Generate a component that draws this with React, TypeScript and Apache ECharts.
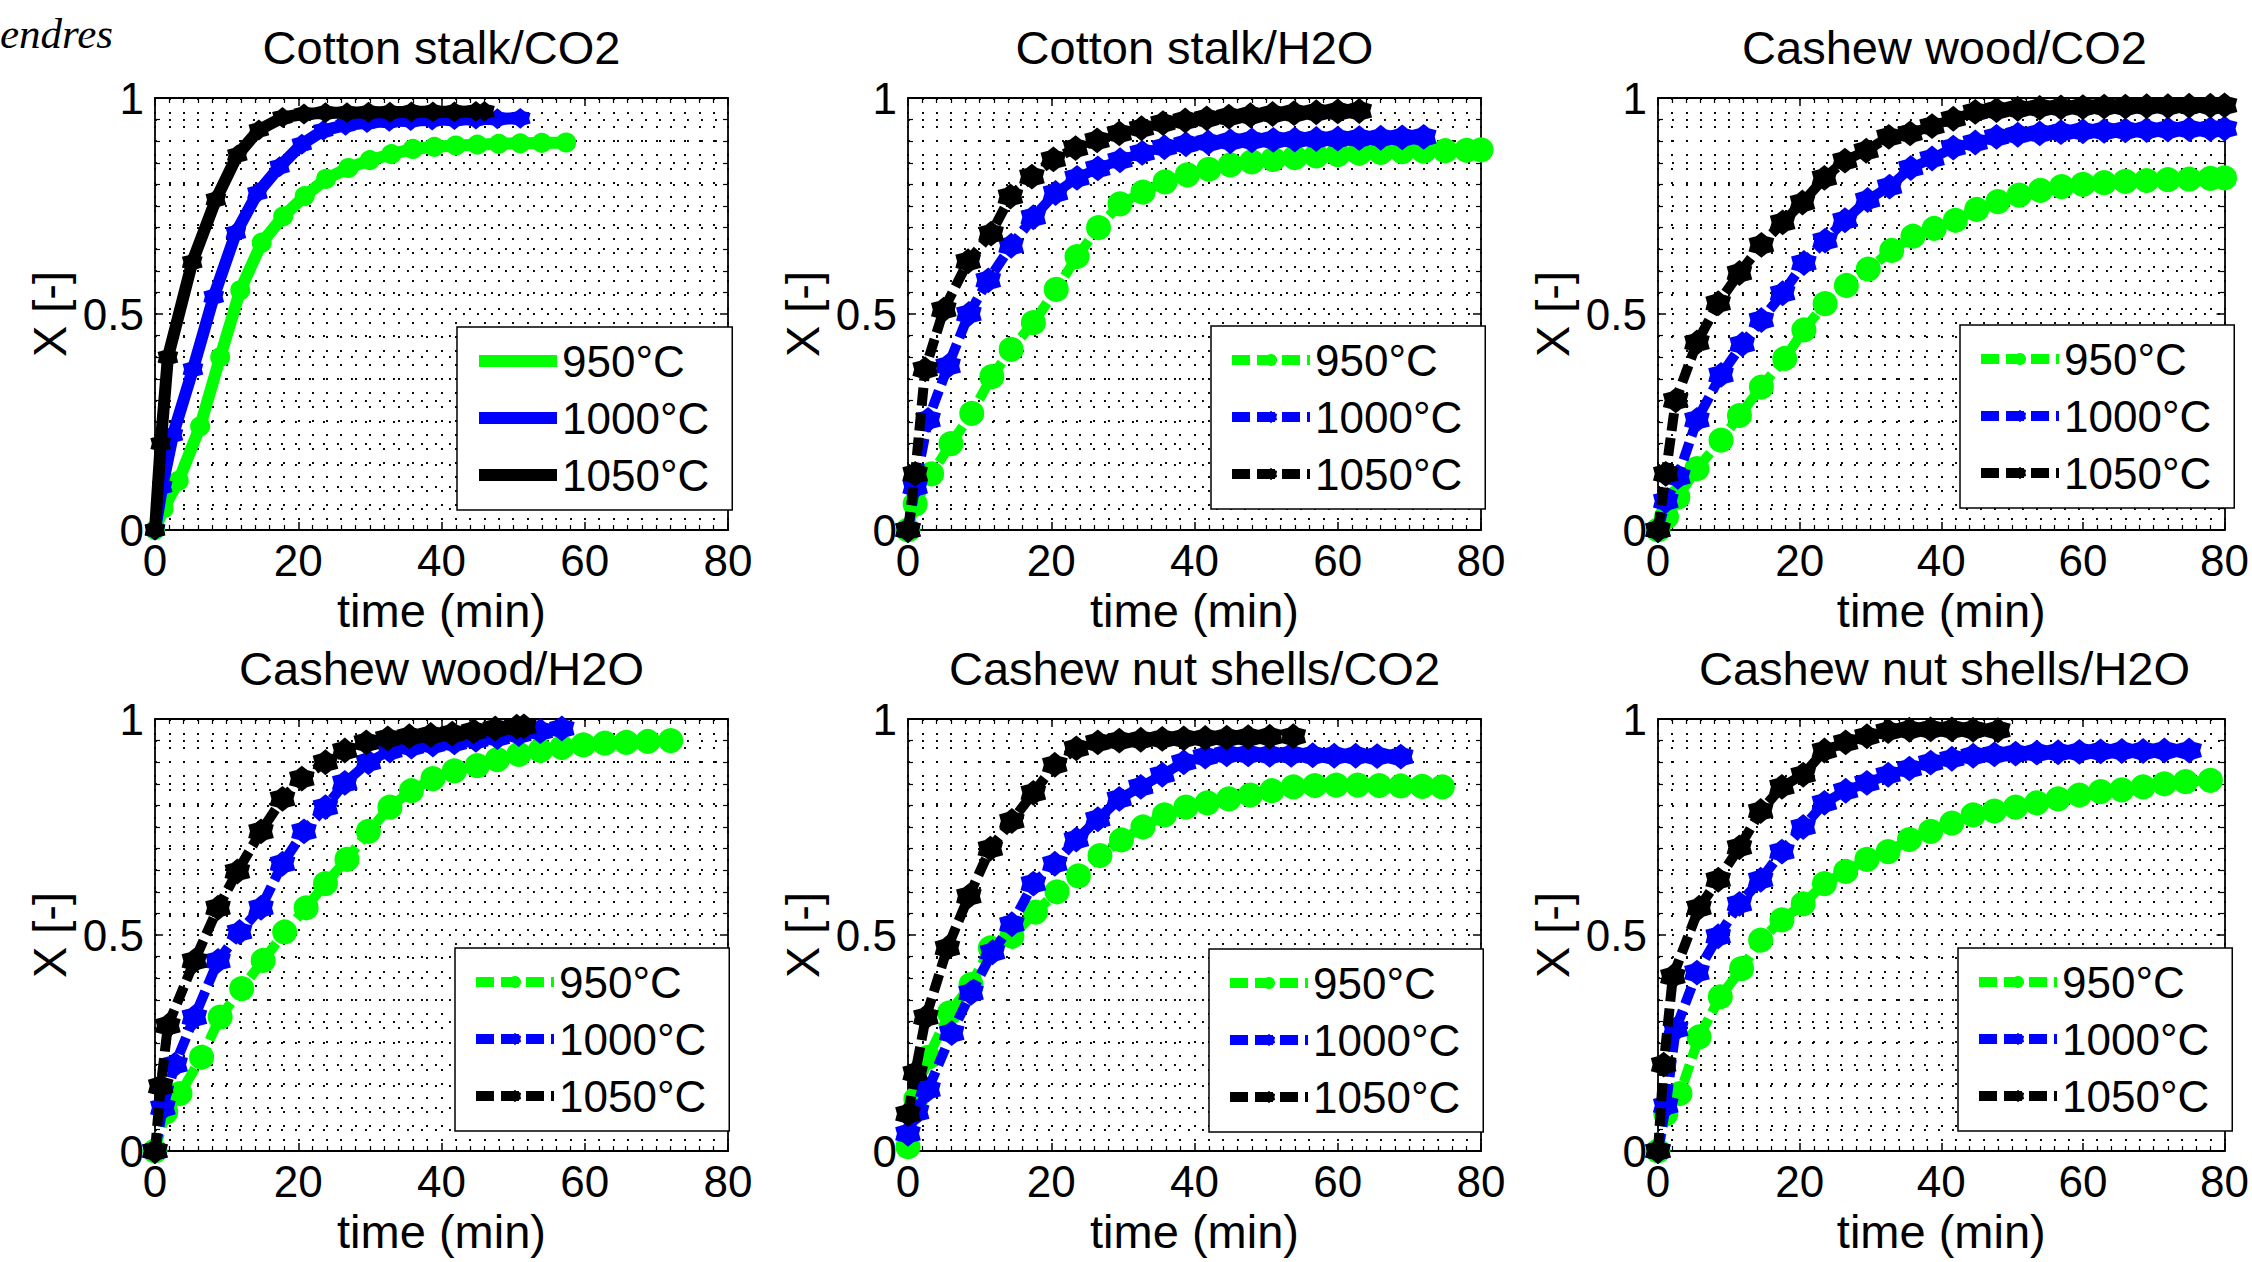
import React, { useEffect, useRef } from 'react';
import * as echarts from 'echarts';

// ---------- data ----------
const TEMPS = ['950°C', '1000°C', '1050°C'];
const COLORS = ['#00ff00', '#0000ff', '#000000'];
const PANEL_TITLES = [
  'Cotton stalk/CO2',
  'Cotton stalk/H2O',
  'Cashew wood/CO2',
  'Cashew wood/H2O',
  'Cashew nut shells/CO2',
  'Cashew nut shells/H2O',
];
const X_MIN = 0, X_MAX = 80, X_STEP = 20;
const Y_MIN = 0, Y_MAX = 1, Y_STEP = 0.5;
const X_LABEL = 'time (min)';
const Y_LABEL = 'X [-]';

// Cotton stalk / CO2
const cottonCO2_950 = [[0,0],[1.2,0.05],[3.3,0.114],[6.3,0.24],[9.1,0.4],[11.9,0.555],[14.9,0.665],[17.9,0.726],[20.9,0.773],[23.9,0.813],[27,0.838],[30,0.856],[33,0.87],[36,0.882],[39,0.887],[42,0.89],[45,0.892],[48,0.894],[51,0.895],[54,0.896],[57.4,0.897]];
const cottonCO2_1000 = [[0,0],[1,0.1],[2.5,0.22],[5.3,0.372],[8.2,0.54],[11.3,0.688],[14.3,0.78],[17.4,0.841],[20.5,0.893],[23.5,0.925],[26.6,0.937],[29.6,0.943],[32.7,0.946],[35.7,0.948],[38.7,0.949],[41.8,0.95],[44.8,0.951],[47.8,0.952],[51,0.953]];
const cottonCO2_1050 = [[0,0],[0.8,0.2],[1.8,0.4],[5.2,0.62],[8.5,0.765],[11.5,0.868],[14.5,0.926],[17.8,0.955],[20.8,0.963],[23.8,0.966],[26.8,0.966],[29.8,0.967],[32.8,0.967],[35.8,0.968],[38.8,0.968],[41.8,0.968],[44.8,0.969],[46,0.969]];

// Cotton stalk / H2O
const cottonH2O_950 = [[0,0],[1,0.06],[3.3,0.13],[6,0.2],[8.9,0.27],[11.7,0.355],[14.4,0.418],[17.5,0.48],[20.7,0.557],[23.6,0.633],[26.6,0.7],[29.6,0.755],[32.8,0.782],[35.9,0.806],[39,0.822],[42,0.835],[45,0.845],[48,0.852],[51,0.858],[54,0.862],[57,0.866],[60,0.869],[63,0.872],[66,0.874],[69,0.876],[72,0.877],[75,0.878],[78,0.879],[80,0.88]];
const cottonH2O_1000 = [[0,0],[1,0.1],[2.8,0.255],[5.6,0.38],[8.5,0.5],[11.2,0.578],[14.4,0.658],[17.5,0.724],[20.6,0.78],[23.6,0.815],[26.5,0.837],[29.6,0.856],[32.7,0.873],[35.8,0.886],[38.8,0.893],[41.9,0.897],[45,0.9],[48,0.902],[51,0.903],[54,0.904],[57,0.905],[60,0.906],[63,0.907],[66,0.908],[69,0.909],[72,0.91]];
const cottonH2O_1050 = [[0,0],[1,0.13],[2.4,0.372],[5,0.51],[8.4,0.622],[11.6,0.686],[14.3,0.772],[17.3,0.818],[20.3,0.858],[23.4,0.884],[26.4,0.902],[29.5,0.918],[32.6,0.93],[35.6,0.942],[38.7,0.948],[41.7,0.953],[44.8,0.957],[47.8,0.96],[50.9,0.963],[53.9,0.965],[57,0.967],[60,0.969],[63,0.97]];

// Cashew wood / CO2
const woodCO2_950 = [[0,0],[1.2,0.03],[2.8,0.076],[5.5,0.142],[8.9,0.208],[11.5,0.265],[14.6,0.331],[17.9,0.397],[20.6,0.463],[23.6,0.524],[26.6,0.566],[29.7,0.604],[33,0.647],[36,0.68],[39,0.698],[42,0.717],[45,0.742],[48,0.76],[51,0.775],[54,0.786],[57,0.795],[60,0.8],[63,0.804],[66,0.807],[69,0.809],[72,0.811],[75,0.812],[78,0.814],[80,0.815]];
const woodCO2_1000 = [[0,0],[1.1,0.067],[2.8,0.123],[5.5,0.255],[8.9,0.359],[11.9,0.43],[14.6,0.486],[17.6,0.548],[20.6,0.618],[23.6,0.67],[26.4,0.717],[29.6,0.764],[32.7,0.795],[35.7,0.838],[38.7,0.86],[41.7,0.885],[44.8,0.897],[47.8,0.91],[50.8,0.915],[53.9,0.918],[56.9,0.921],[60,0.923],[63,0.924],[66,0.925],[69,0.926],[72,0.927],[75,0.928],[78,0.928],[80,0.929]];
const woodCO2_1050 = [[0,0],[1.1,0.13],[2.5,0.3],[5.5,0.434],[8.5,0.525],[11.5,0.595],[14.6,0.66],[17.6,0.712],[20.4,0.758],[23.5,0.815],[26.4,0.855],[29.4,0.878],[32.6,0.91],[35.6,0.918],[38.7,0.935],[41.7,0.952],[44.8,0.968],[47.8,0.972],[50.8,0.975],[53.9,0.977],[56.9,0.978],[60,0.979],[63,0.98],[66,0.98],[69,0.981],[72,0.981],[75,0.982],[78,0.982],[80,0.983]];

// Cashew wood / H2O
const woodH2O_950 = [[0,0],[1.5,0.09],[3.5,0.133],[6.5,0.217],[9.1,0.31],[12.1,0.376],[15.1,0.441],[18.1,0.507],[21.1,0.563],[23.8,0.619],[26.8,0.675],[29.8,0.74],[32.8,0.796],[35.8,0.834],[38.8,0.862],[41.8,0.88],[45,0.892],[47.8,0.906],[50.8,0.918],[53.8,0.927],[56.8,0.934],[59.8,0.94],[62.8,0.944],[65.8,0.946],[68.8,0.948],[72,0.95]];
const woodH2O_1000 = [[0,0],[1.1,0.1],[2.8,0.2],[5.5,0.31],[8.8,0.44],[11.8,0.507],[14.8,0.563],[17.8,0.665],[20.8,0.74],[23.8,0.796],[26.5,0.852],[29.8,0.9],[32.8,0.927],[35.8,0.936],[38.8,0.941],[41.8,0.946],[44.8,0.952],[47.8,0.958],[50.8,0.965],[53.8,0.972],[56.8,0.978]];
const woodH2O_1050 = [[0,0],[0.8,0.15],[1.8,0.29],[5.5,0.44],[8.8,0.563],[11.5,0.647],[14.8,0.74],[17.8,0.815],[20.5,0.862],[23.8,0.9],[26.5,0.927],[29.5,0.946],[32.5,0.955],[35.5,0.96],[38.5,0.963],[41.5,0.966],[44.5,0.972],[47.5,0.978],[50.5,0.982],[51.5,0.983]];

// Cashew nut shells / CO2
const nutCO2_950 = [[0,0.01],[1.1,0.12],[2.8,0.217],[5.8,0.32],[8.8,0.385],[11.5,0.47],[14.5,0.497],[17.8,0.553],[20.8,0.6],[23.8,0.637],[26.8,0.684],[29.8,0.72],[32.8,0.75],[35.8,0.778],[38.8,0.796],[41.8,0.806],[44.8,0.815],[47.8,0.824],[50.8,0.834],[53.8,0.843],[56.8,0.846],[59.8,0.847],[62.8,0.847],[65.8,0.846],[68.8,0.845],[71.8,0.844],[74.6,0.843]];
const nutCO2_1000 = [[0,0.04],[1.2,0.09],[2.8,0.142],[6.1,0.273],[8.8,0.366],[11.8,0.46],[14.5,0.525],[17.5,0.619],[20.5,0.665],[23.5,0.721],[26.5,0.768],[29.5,0.815],[32.5,0.843],[35.5,0.871],[38.5,0.9],[41.5,0.913],[44.5,0.918],[47.5,0.918],[50.5,0.917],[53.5,0.917],[56.5,0.916],[59.5,0.915],[62.5,0.915],[65.5,0.914],[68.8,0.913]];
const nutCO2_1050 = [[0,0.086],[1,0.18],[2.5,0.31],[5.5,0.47],[8.5,0.59],[11.5,0.7],[14.5,0.764],[17.5,0.829],[20.5,0.894],[23.5,0.932],[26.5,0.946],[29.5,0.95],[32.5,0.952],[35.5,0.954],[38.5,0.955],[41.5,0.956],[44.5,0.957],[47.5,0.958],[50.5,0.959],[53.8,0.96]];

// Cashew nut shells / H2O
const nutH2O_950 = [[0,0],[1.1,0.086],[3.1,0.133],[5.8,0.264],[8.8,0.357],[11.8,0.422],[14.5,0.488],[17.5,0.535],[20.5,0.572],[23.5,0.619],[26.5,0.647],[29.5,0.675],[32.5,0.693],[35.5,0.721],[38.5,0.74],[41.5,0.759],[44.5,0.778],[47.5,0.787],[50.5,0.796],[53.5,0.806],[56.5,0.815],[59.5,0.824],[62.5,0.832],[65.5,0.836],[68.5,0.843],[71.5,0.85],[74.5,0.855],[78,0.858]];
const nutH2O_1000 = [[0,0],[1.1,0.105],[2.5,0.282],[5.5,0.413],[8.5,0.497],[11.5,0.572],[14.5,0.628],[17.5,0.693],[20.5,0.75],[23.5,0.806],[26.5,0.834],[29.5,0.852],[32.5,0.871],[35.5,0.885],[38.5,0.899],[41.5,0.908],[44.5,0.915],[47.5,0.918],[50.5,0.92],[53.5,0.922],[56.5,0.923],[59.5,0.924],[62.5,0.925],[65.5,0.926],[68.5,0.926],[71.5,0.927],[75,0.927]];
const nutH2O_1050 = [[0,0],[0.8,0.2],[2.1,0.404],[5.8,0.563],[8.5,0.628],[11.5,0.703],[14.5,0.787],[17.5,0.843],[20.5,0.871],[23.5,0.927],[26.5,0.946],[29.5,0.96],[32.5,0.972],[35.5,0.975],[38.5,0.976],[41.5,0.976],[44.5,0.975],[48,0.974]];

const PANEL_DATA = [
  [cottonCO2_950, cottonCO2_1000, cottonCO2_1050],
  [cottonH2O_950, cottonH2O_1000, cottonH2O_1050],
  [woodCO2_950, woodCO2_1000, woodCO2_1050],
  [woodH2O_950, woodH2O_1000, woodH2O_1050],
  [nutCO2_950, nutCO2_1000, nutCO2_1050],
  [nutH2O_950, nutH2O_1000, nutH2O_1050],
];

// ---------- layout / style ----------
const W = 2252, H = 1262;
const FONT = '"Liberation Sans", Arial, Helvetica, sans-serif';
const GRID_LEFT = [155, 908, 1658];
const GRID_TOP = [98, 719];
const GRID_W = 573, GRID_H = 432;
const LEGEND_POS = [[457, 327], [1211, 326], [1960, 325], [455, 948], [1209, 949], [1958, 948]];
const TITLE_Y = [47, 668];
const BLOB = 'path://M0,-10 L3.75,-6.5 L8.66,-5 L7.5,0 L8.66,5 L3.75,6.5 L0,10 L-3.75,6.5 L-8.66,5 L-7.5,0 L-8.66,-5 L-3.75,-6.5 Z';
const SYMBOLS = ['circle', BLOB, BLOB];

function buildOption() {
  const dotted = { color: '#000', width: 1.9, type: [1.9, 12.1] };
  const grid: any[] = [];
  const xAxis: any[] = [];
  const yAxis: any[] = [];
  const series: any[] = [];
  const legend: any[] = [];
  const graphic: any[] = [];

  PANEL_TITLES.forEach((title, p) => {
    const col = p % 3, row = Math.floor(p / 3);
    const left = GRID_LEFT[col], top = GRID_TOP[row];
    grid.push({ left, top, width: GRID_W, height: GRID_H, show: true, backgroundColor: '#fff', borderWidth: 0 });

    const tick = { show: true, inside: true, length: 8, lineStyle: { color: '#000', width: 1.5 } };
    const minor = { show: true, splitNumber: 10, length: 5, lineStyle: { color: '#000', width: 1.2 } };
    const line = { show: true, onZero: false, lineStyle: { color: '#000', width: 1.8 } };

    xAxis.push({
      type: 'value', gridIndex: p, min: X_MIN, max: X_MAX, interval: X_STEP, position: 'bottom',
      axisLine: line, axisTick: tick, minorTick: minor,
      splitLine: { show: true, lineStyle: dotted }, minorSplitLine: { show: true, lineStyle: dotted },
      axisLabel: { color: '#000', fontSize: 44, margin: 8, fontFamily: FONT },
      name: X_LABEL, nameLocation: 'middle', nameGap: 57, nameMoveOverlap: false,
      nameTextStyle: { color: '#000', fontSize: 47, fontFamily: FONT },
    });
    xAxis.push({
      type: 'value', gridIndex: p, min: X_MIN, max: X_MAX, interval: X_STEP, position: 'top',
      axisLine: line, axisTick: tick, minorTick: minor,
      splitLine: { show: false }, axisLabel: { show: false },
    });
    yAxis.push({
      type: 'value', gridIndex: p, min: Y_MIN, max: Y_MAX, interval: Y_STEP, position: 'left',
      axisLine: line, axisTick: tick, minorTick: minor,
      splitLine: { show: true, lineStyle: dotted }, minorSplitLine: { show: true, lineStyle: dotted },
      axisLabel: { color: '#000', fontSize: 44, margin: 11, fontFamily: FONT },
      name: Y_LABEL, nameLocation: 'middle', nameGap: 82, nameMoveOverlap: false,
      nameTextStyle: { color: '#000', fontSize: 47, fontFamily: FONT },
    });
    yAxis.push({
      type: 'value', gridIndex: p, min: Y_MIN, max: Y_MAX, interval: Y_STEP, position: 'right',
      axisLine: line, axisTick: tick, minorTick: minor,
      splitLine: { show: false }, axisLabel: { show: false },
    });

    const solid = p === 0;
    const lw = solid ? 12 : 10;
    const dash = solid ? 'solid' : [18, 7];
    TEMPS.forEach((t, k) => {
      series.push({
        type: 'line',
        name: `${t}#${p}`,
        xAxisIndex: 2 * p,
        yAxisIndex: 2 * p,
        data: PANEL_DATA[p][k],
        symbol: SYMBOLS[k],
        symbolSize: solid ? 17 : 22,
        showSymbol: true,
        clip: false,
        lineStyle: { color: COLORS[k], width: lw, type: dash, join: 'round' },
        itemStyle: { color: COLORS[k], borderColor: COLORS[k], borderWidth: 3 },
        emphasis: { disabled: true },
        z: 3 + k,
      });
    });

    legend.push({
      data: TEMPS.map((t) => `${t}#${p}`),
      formatter: (n: string) => n.split('#')[0],
      orient: 'vertical',
      left: LEGEND_POS[p][0],
      top: LEGEND_POS[p][1],
      padding: [12, 23, 13, 16],
      itemWidth: 78,
      itemHeight: 14,
      itemGap: 13,
      backgroundColor: '#fff',
      borderColor: '#000',
      borderWidth: 1.5,
      borderRadius: 0,
      selectedMode: false,
      textStyle: { color: '#000', fontSize: 44, fontFamily: FONT },
      lineStyle: { width: lw },
      itemStyle: { borderWidth: 1 },
      z: 10,
    });

    graphic.push({
      type: 'text',
      x: left + GRID_W / 2,
      y: TITLE_Y[row],
      style: { text: title, fill: '#000', fontSize: 47, fontFamily: FONT, align: 'center', verticalAlign: 'middle' },
    });
  });

  graphic.push({
    type: 'text', x: 0, y: 33,
    style: { text: 'endres', fill: '#000', fontSize: 43, fontStyle: 'italic', fontFamily: '"Liberation Serif", "Times New Roman", serif', align: 'left', verticalAlign: 'middle' },
  });

  return {
    animation: false,
    backgroundColor: '#fff',
    grid, xAxis, yAxis, series, legend, graphic,
  };
}

export default function App() {
  const ref = useRef<HTMLDivElement>(null);
  useEffect(() => {
    const chart = echarts.init(ref.current!, null, { renderer: 'svg' });
    chart.setOption(buildOption() as any);
    return () => chart.dispose();
  }, []);
  return (
    <div
      ref={ref}
      style={{ position: 'fixed', left: 0, top: 0, width: W, height: H, background: '#fff' }}
    />
  );
}
